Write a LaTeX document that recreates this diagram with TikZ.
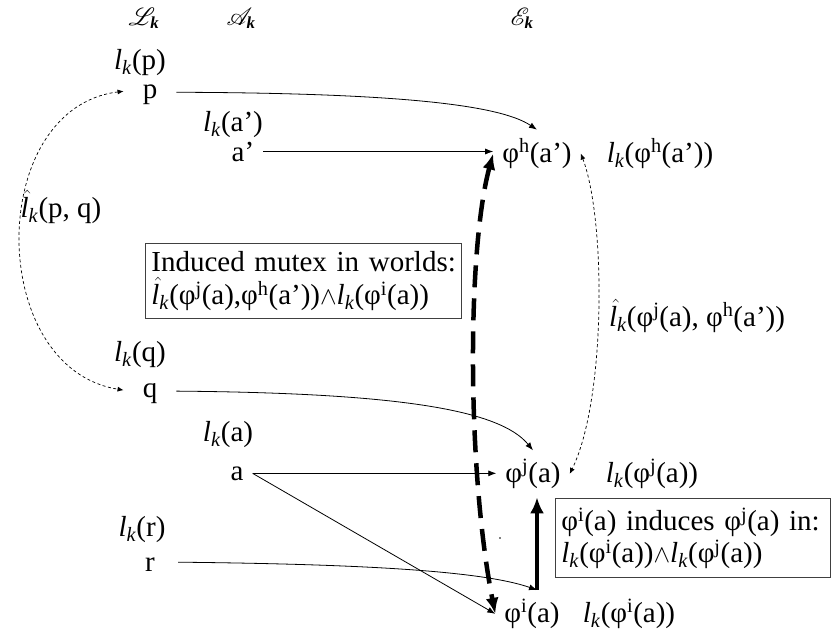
\documentclass[tikz,border=0pt]{standalone}
\usepackage{amsmath}
\usepackage{mathrsfs}
\usepackage{fontspec}
\setmainfont{Liberation Serif}
\usetikzlibrary{arrows.meta,calc}
\newcommand\lk{\textit{l}\textsubscript{\textit{k}}}
\newcommand\hlk{\ensuremath{\skew{4}{\hat}{\text{\itshape l}}}\textsubscript{\textit{k}}}
\newcommand\phx[1]{φ\textsuperscript{#1}}
\begin{document}
\begin{tikzpicture}[x=1pt,y=-1pt,font=\fontsize{29}{32}\selectfont,
  txt/.style={anchor=base,inner sep=9pt},
  hd/.style={anchor=base,inner sep=2pt,font=\fontsize{24}{26}\selectfont},
  thinarr/.style={-{Latex[length=8pt,width=6pt]},line width=0.8pt},
  dotarr/.style={{Latex[length=6pt,width=5pt]}-{Latex[length=6pt,width=5pt]},line width=0.7pt,dash pattern=on 3pt off 2.5pt},
  bigdash/.style={{Latex[length=16pt,width=13pt]}-{Latex[length=16pt,width=13pt]},line width=4.5pt,dash pattern=on 22pt off 11pt},
  bigarr/.style={-{Latex[length=16pt,width=14pt]},line width=4.5pt},
  infobox/.style={draw=black!75,line width=0.8pt,align=left,anchor=north west,inner xsep=6pt,inner ysep=0pt}]
\useasboundingbox (0,0) rectangle (834,640);
% headers
\node[hd] (hL) at (144,25) {$\mathscr{L}_{\textbf{\textit{k}}}$};
\node[hd] (hA) at (241,25) {$\mathscr{A}_{\textbf{\textit{k}}}$};
\node[hd] (hE) at (522,25) {$\mathscr{E}_{\textbf{\textit{k}}}$};
% left column
\node[txt] (lkp) at (140,69) {\lk(p)};
\node[txt] (p) at (150,98) {p};
\node[txt] (lka1) at (233,131) {\lk(a’)};
\node[txt] (a1) at (243,161) {a’};
\node[txt] (hpq) at (61,217) {\hlk(p, q)};
\node[txt] (lkq) at (140,361) {\lk(q)};
\node[txt] (q) at (150,397) {q};
\node[txt] (lka) at (228,441) {\lk(a)};
\node[txt] (a) at (237,480) {a};
\node[txt] (lkr) at (142,536) {\lk(r)};
\node[txt] (r) at (150,571) {r};
% right column
\node[txt] (fh) at (537,162) {\phx{h}(a’)};
\node[txt] (lfh) at (660,162) {\lk(\phx{h}(a’))};
\node[txt] (hjh) at (697,326) {\hlk(\phx{j}(a), \phx{h}(a’))};
\node[txt] (fj) at (533,482) {\phx{j}(a)};
\node[txt] (lfj) at (652,482) {\lk(\phx{j}(a))};
\node[txt] (fi) at (532,622) {\phx{i}(a)};
\node[txt] (lfi) at (629,622) {\lk(\phx{i}(a))};
% boxes
\node[infobox,text width=304pt,minimum height=75pt] (box1) at (145,243)
  {\mbox{Induced mutex in worlds:}\\[1pt]\mbox{\hlk(\phx{j}(a),\phx{h}(a’))$\wedge$\lk(\phx{i}(a))}};
\node[infobox,text width=263pt,minimum height=79pt] (box2) at (555,498)
  {\mbox{\phx{i}(a) induces \phx{j}(a) in:}\\\mbox{\lk(\phx{i}(a))$\wedge$\lk(\phx{j}(a))}};
\coordinate (jn) at (537,590);
% connectors
\draw[thinarr] ($(p.east)+(10,-2)$) .. controls (400,93) and (500,105) .. (fh.north);
\draw[thinarr] (a1.east) -- (a1.east -| fh.west);
\draw[thinarr] ($(q.east)+(10,-2)$) .. controls (400,393) and (500,410) .. (fj.north);
\draw[thinarr] (a.east) -- (a.east -| fj.west);
\draw[thinarr] (a.east) -- (fi.west);
\draw[thinarr] ($(r.east)+(14,-2)$) .. controls (350,564) and (480,570) .. (jn);
\draw[bigarr] (jn) -- (jn |- fj.south);
\draw[bigdash] (fh.west) .. controls (467,250) and (467,470) .. (fi.west);
\draw[dotarr] ($(p.west)+(-10,-3)$) .. controls (-14,108) and (-14,368) .. ($(q.west)+(-10,-3)$);
\draw[dotarr] (fh.east) .. controls (606,220) and (606,400) .. (fj.east);
\fill (500,538) circle (0.8);
\end{tikzpicture}
\end{document}
